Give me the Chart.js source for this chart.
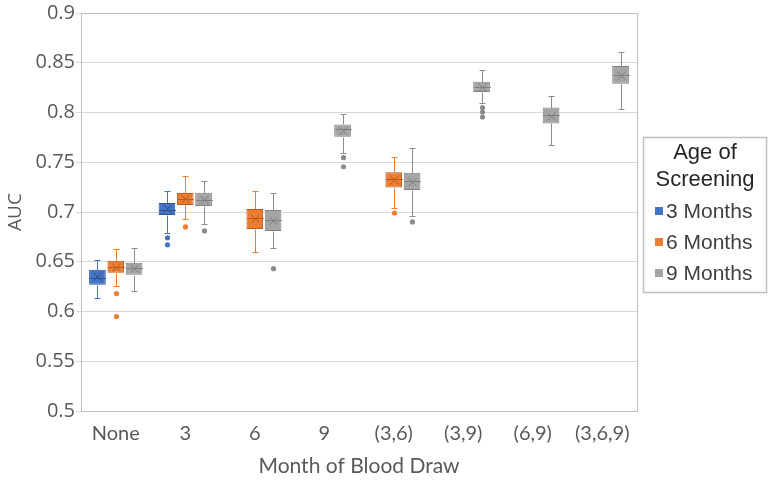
<!DOCTYPE html>
<html>
<head>
<meta charset="utf-8">
<script src="https://cdn.jsdelivr.net/npm/chart.js@4/dist/chart.umd.min.js"></script>
<style>
  html, body { margin: 0; padding: 0; background: #fff; }
  #wrap { width: 772px; height: 481px; position: relative; }
</style>
</head>
<body>
<div id="wrap"><canvas id="box"></canvas></div>
<script>
// Data
const categories = ['None', '3', '6', '9', '(3,6)', '(3,9)', '(6,9)', '(3,6,9)'];
const seriesNames = ['3 Months', '6 Months', '9 Months'];
const yTicks = [0.5, 0.55, 0.6, 0.65, 0.7, 0.75, 0.8, 0.85, 0.9];

// 3 Months
const m3Min = [0.614, 0.679, null, null, null, null, null, null];
const m3Q1 = [0.627, 0.697, null, null, null, null, null, null];
const m3Med = [0.634, 0.702, null, null, null, null, null, null];
const m3Q3 = [0.642, 0.709, null, null, null, null, null, null];
const m3Max = [0.652, 0.721, null, null, null, null, null, null];
const m3Mean = [0.635, 0.703, null, null, null, null, null, null];
const m3Out = [[], [0.674, 0.667], [], [], [], [], [], []];

// 6 Months
const m6Min = [0.626, 0.693, 0.660, null, 0.704, null, null, null];
const m6Q1 = [0.639, 0.707, 0.683, null, 0.7245, null, null, null];
const m6Med = [0.645, 0.713, 0.694, null, 0.733, null, null, null];
const m6Q3 = [0.651, 0.719, 0.703, null, 0.740, null, null, null];
const m6Max = [0.6625, 0.736, 0.721, null, 0.7556, null, null, null];
const m6Mean = [0.644, 0.713, 0.693, null, 0.732, null, null, null];
const m6Out = [[0.618, 0.595], [0.685], [], [], [0.699], [], [], []];

// 9 Months
const m9Min = [0.6206, 0.688, 0.6635, 0.759, 0.696, 0.8095, 0.767, 0.804];
const m9Q1 = [0.637, 0.706, 0.681, 0.7757, 0.722, 0.8206, 0.789, 0.829];
const m9Med = [0.644, 0.712, 0.692, 0.7837, 0.731, 0.826, 0.7975, 0.838];
const m9Q3 = [0.649, 0.7194, 0.702, 0.788, 0.7395, 0.831, 0.805, 0.8467];
const m9Max = [0.664, 0.731, 0.719, 0.798, 0.7646, 0.843, 0.8166, 0.8608];
const m9Mean = [0.643, 0.712, 0.691, 0.781, 0.730, 0.825, 0.796, 0.837];
const m9Out = [[], [0.681], [0.643], [0.7546, 0.7455], [0.690], [0.805, 0.8005, 0.7955], [], []];

const stats = [
  { min: m3Min, q1: m3Q1, med: m3Med, q3: m3Q3, max: m3Max, mean: m3Mean, out: m3Out },
  { min: m6Min, q1: m6Q1, med: m6Med, q3: m6Q3, max: m6Max, mean: m6Mean, out: m6Out },
  { min: m9Min, q1: m9Q1, med: m9Med, q3: m9Q3, max: m9Max, mean: m9Mean, out: m9Out }
];

const fills = ['#4472C4', '#ED7D31', '#A5A5A5'];
const edges = ['#2F528F', '#B4591F', '#7F7F7F'];
const whiskers = ['#4472C4', '#ED7D31', '#8C8C8C'];

// boxes as floating bars q1..q3
const toRange = (q1, q3) => q1.map((v, i) => (v === null ? null : [v, q3[i]]));

// Plugins
const boxExtras = {
  id: 'boxExtras',
  afterDatasetsDraw: (chart) => {
    const { ctx } = chart;
    const y = chart.scales.y;
    stats.forEach((s, di) => {
      const meta = chart.getDatasetMeta(di);
      meta.data.forEach((bar, i) => {
        if (s.q1[i] === null) return;
        const x = Math.round(bar.x) + 0.5;
        const half = bar.width / 2;
        const py = (v) => Math.round(y.getPixelForValue(v)) + 0.5;
        ctx.save();
        ctx.lineWidth = 1;
        // whiskers
        ctx.strokeStyle = whiskers[di];
        ctx.beginPath();
        ctx.moveTo(x, py(s.q3[i])); ctx.lineTo(x, py(s.max[i]));
        ctx.moveTo(x - 3, py(s.max[i])); ctx.lineTo(x + 3, py(s.max[i]));
        ctx.moveTo(x, py(s.q1[i])); ctx.lineTo(x, py(s.min[i]));
        ctx.moveTo(x - 3, py(s.min[i])); ctx.lineTo(x + 3, py(s.min[i]));
        ctx.stroke();
        // median
        ctx.strokeStyle = edges[di];
        ctx.beginPath();
        ctx.moveTo(x - half, py(s.med[i])); ctx.lineTo(x + half, py(s.med[i]));
        ctx.stroke();
        // mean cross
        const my = y.getPixelForValue(s.mean[i]);
        ctx.beginPath();
        ctx.moveTo(x - 4, my - 4); ctx.lineTo(x + 4, my + 4);
        ctx.moveTo(x + 4, my - 4); ctx.lineTo(x - 4, my + 4);
        ctx.stroke();
        // outliers
        ctx.fillStyle = whiskers[di];
        s.out[i].forEach((v) => {
          ctx.beginPath();
          ctx.arc(x, y.getPixelForValue(v), 2.6, 0, Math.PI * 2);
          ctx.fill();
        });
        ctx.restore();
      });
    });
  }
};

const frame = {
  id: 'frame',
  afterDraw: (chart) => {
    const { ctx, chartArea: a } = chart;
    ctx.save();
    ctx.strokeStyle = '#BFBFBF';
    ctx.lineWidth = 1;
    ctx.strokeRect(Math.round(a.left) + 0.5, Math.round(a.top) + 0.5,
      Math.round(a.right - a.left), Math.round(a.bottom - a.top));
    ctx.restore();
  }
};

const boxLegend = {
  id: 'boxLegend',
  afterDraw: (chart) => {
    const { ctx } = chart;
    ctx.save();
    ctx.strokeStyle = '#BFBFBF';
    ctx.lineWidth = 1.5;
    ctx.strokeRect(643.5, 137.5, 123, 155);
    ctx.fillStyle = '#262626';
    ctx.font = '22px "Liberation Sans", Arial, sans-serif';
    ctx.textAlign = 'center';
    ctx.textBaseline = 'middle';
    ctx.fillText('Age of', 705, 153);
    ctx.fillText('Screening', 705, 180);
    ctx.textAlign = 'left';
    ctx.font = '21px "Liberation Sans", Arial, sans-serif';
    seriesNames.forEach((name, i) => {
      const ly = 211 + i * 31;
      ctx.fillStyle = fills[i];
      ctx.fillRect(655, ly - 4, 8, 8);
      ctx.fillStyle = '#404040';
      ctx.fillText(name, 666, ly + 1);
    });
    ctx.restore();
  }
};

// Render
const renderBoxChart = () => {
  const ctx = document.getElementById('box');
  const datasets = stats.map((s, i) => ({
    label: seriesNames[i],
    data: toRange(s.q1, s.q3),
    backgroundColor: fills[i],
    borderColor: edges[i],
    borderWidth: 1,
    borderSkipped: false,
    categoryPercentage: 0.79,
    barPercentage: 0.91
  }));

  new Chart(ctx, {
    type: 'bar',
    data: { labels: categories, datasets: datasets },
    options: {
      responsive: true,
      maintainAspectRatio: false,
      animation: false,
      layout: { padding: { top: 12, right: 135, left: 0, bottom: 0 } },
      plugins: {
        legend: { display: false },
        tooltip: { enabled: false }
      },
      scales: {
        x: {
          grid: { display: false },
          border: { display: false },
          ticks: {
            color: '#595959',
            font: { family: 'Lato', size: 20 },
            padding: 3,
            maxRotation: 0
          },
          title: {
            display: true,
            text: 'Month of Blood Draw',
            color: '#595959',
            font: { family: 'Lato', size: 21 },
            padding: { top: 2, bottom: 2 }
          },
          afterFit: (scale) => { scale.height = 70; }
        },
        y: {
          min: 0.5,
          max: 0.9,
          afterBuildTicks: (scale) => { scale.ticks = yTicks.map((v) => ({ value: v })); },
          grid: { color: '#D9D9D9', tickLength: 5 },
          border: { display: false },
          ticks: {
            color: '#595959',
            font: { family: 'Open Sans', size: 20 },
            padding: 1,
            callback: (v) => String(+v.toFixed(2))
          },
          title: {
            display: true,
            text: 'AUC',
            color: '#595959',
            font: { family: 'Open Sans', size: 19 },
            padding: { top: 4, bottom: 0 }
          },
          afterFit: (scale) => { scale.width = 81; }
        }
      }
    },
    plugins: [boxExtras, frame, boxLegend]
  });
};

// Main
renderBoxChart();
</script>
</body>
</html>
